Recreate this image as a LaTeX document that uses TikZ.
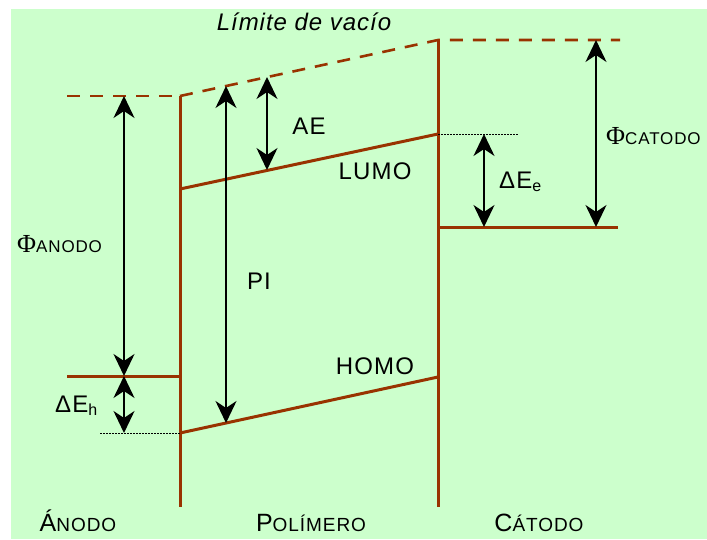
\documentclass[tikz,border=0pt]{standalone}
\usepackage{fontspec}
\setmainfont{Liberation Sans}[LetterSpace=5]
\newfontfamily\phifont{Liberation Serif}
\newfontfamily\spacedit{Liberation Sans}[LetterSpace=4,ItalicFont=Liberation Sans Italic]
\usetikzlibrary{arrows.meta}
\definecolor{bgg}{HTML}{CCFFCC}
\definecolor{brn}{HTML}{993300}
\begin{document}
\begin{tikzpicture}[x=1pt,y=-1pt,
  lvl/.style={draw=brn,line width=3pt},
  vac/.style={draw=brn,line width=2.6pt,dash pattern=on 13pt off 10pt},
  dot/.style={draw=black,line width=1pt,dash pattern=on 1.5pt off 1.5pt},
  dbl/.style={draw=black,line width=2.3pt,{Stealth[length=22pt,width=21pt,inset=7pt]}-{Stealth[length=22pt,width=21pt,inset=7pt]}},
  lbl/.style={font=\fontsize{24}{26}\selectfont,inner sep=0pt},
  bot/.style={inner sep=0pt,anchor=base}]
\useasboundingbox (0,0) rectangle (707,539);
\fill[bgg] (11,9) rectangle (707,539);
% coordinates
\coordinate (avl) at (67,96);
\coordinate (avr) at (180,96);
\coordinate (afl) at (67,376);
\coordinate (afr) at (180,376);
\coordinate (pwt) at (180,96);
\coordinate (pwb) at (180,507);
\coordinate (cwt) at (438,40);
\coordinate (cwb) at (438,507);
\coordinate (cvr) at (620,40);
\coordinate (lumoL) at (180,189);
\coordinate (lumoR) at (438,134);
\coordinate (homoL) at (180,433);
\coordinate (homoR) at (438,377);
\coordinate (cfr) at (618,227);
\coordinate (cfl) at (438,227);
\coordinate (dotE) at (518,134);
\coordinate (dotH) at (100,433);
% levels
\draw[vac] (avl) -- (avr);
\draw[vac] (pwt) -- (cwt) -- (cvr);
\draw[lvl] (afl) -- (afr);
\draw[lvl] (pwt) -- (pwb);
\draw[lvl] (cwt) -- (cwb);
\draw[lvl] (lumoL) -- (lumoR);
\draw[lvl] (homoL) -- (homoR);
\draw[lvl] (cfl) -- (cfr);
\draw[dot] (lumoR) -- (dotE);
\draw[dot] (dotH) -- (homoL);
% arrows
\coordinate (a1t) at (124,96); \coordinate (a1b) at (124,376);
\coordinate (a2b) at (124,433);
\coordinate (pit) at (226,86); \coordinate (pib) at (226,423);
\coordinate (aet) at (267,77); \coordinate (aeb) at (267,170);
\coordinate (det) at (484,134); \coordinate (deb) at (484,227);
\coordinate (pct) at (596,40); \coordinate (pcb) at (596,227);
\draw[dbl] (a1t) -- (a1b);
\draw[dbl] (a1b) -- (a2b);
\draw[dbl] (pit) -- (pib);
\draw[dbl] (aet) -- (aeb);
\draw[dbl] (det) -- (deb);
\draw[dbl] (pct) -- (pcb);
% labels
\node[inner sep=0pt,font=\fontsize{24}{26}\selectfont\spacedit\itshape] (lv) at (304,22) {Límite de vacío};
\node[lbl] (ae) at (309,126) {AE};
\node[lbl] (lumo) at (375,171) {LUMO};
\node[lbl] (pi) at (259,281) {PI};
\node[lbl] (homo) at (375,366) {HOMO};
\node[lbl,anchor=base west] (phia) at (17,252) {{\phifont\fontsize{26}{28}\selectfont Φ}\fontsize{17}{19}\selectfont ANODO};
\node[lbl,anchor=base west] (deh) at (55,412) {ΔE{\fontsize{16}{18}\selectfont\raisebox{-3pt}{h}}};
\node[lbl,anchor=base west] (dee) at (499,188) {ΔE{\fontsize{16}{18}\selectfont\raisebox{-3pt}{e}}};
\node[lbl,anchor=base west] (phic) at (606,144) {{\phifont\fontsize{26}{28}\selectfont Φ}\fontsize{17}{19}\selectfont CATODO};
\node[bot] (an) at (78,531) {\fontsize{25}{27}\selectfont Á\fontsize{19}{20}\selectfont NODO};
\node[bot] (po) at (311,531) {\fontsize{25}{27}\selectfont P\fontsize{19}{20}\selectfont OLÍMERO};
\node[bot] (ca) at (539,531) {\fontsize{25}{27}\selectfont C\fontsize{19}{20}\selectfont ÁTODO};
\end{tikzpicture}
\end{document}
